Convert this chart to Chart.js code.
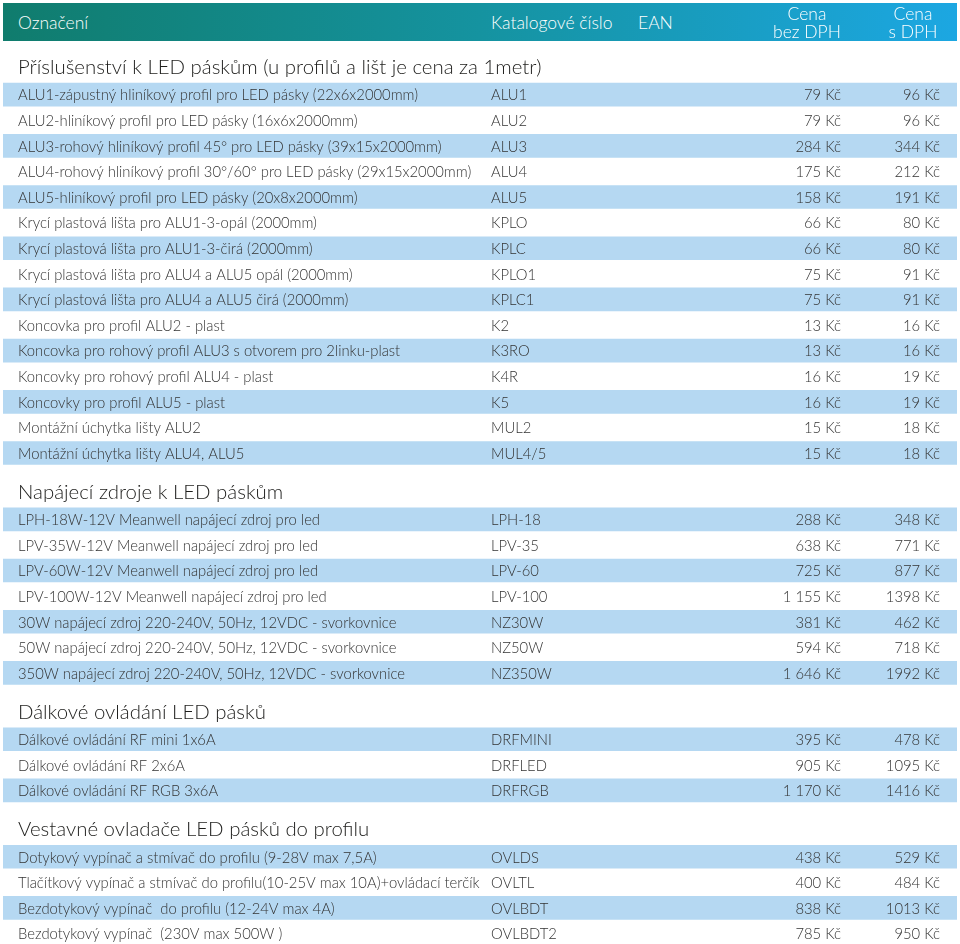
<!DOCTYPE html>
<html>
<head>
<meta charset="utf-8">
<script src="https://cdn.jsdelivr.net/npm/chart.js@4/dist/chart.umd.min.js"></script>
<style>
html, body { margin: 0; padding: 0; background: #fff; }
#wrap { position: relative; width: 960px; height: 944px; overflow: hidden; }
#chart { position: absolute; left: 0; top: 0; }
#head {
    position: absolute; left: 3px; top: 3px; width: 954px; height: 38px;
    background: linear-gradient(90deg, #107c6d 0%, #1593a0 50%, #1ca7e2 100%);
    color: #fff; font-family: Lato, sans-serif; font-size: 17.5px; font-weight: 300;
}
#head span { position: absolute; white-space: nowrap; }
#head .two { text-align: center; line-height: 18px; top: 2px; }
</style>
</head>
<body>
<div id="wrap">
    <canvas id="chart" width="960" height="944"></canvas>
    <div id="head">
        <span style="left:15px; top:9px;">Označení</span>
        <span style="left:488px; top:9px;">Katalogové číslo</span>
        <span style="left:635px; top:9px;">EAN</span>
        <span class="two" style="left:764px; width:80px;">Cena<br>bez DPH</span>
        <span class="two" style="left:870px; width:80px;">Cena<br>s DPH</span>
    </div>
</div>
<script>
const sectionTitles = [
    "Příslušenství k LED páskům (u profilů a lišt je cena za 1metr)",
    "Napájecí zdroje k LED páskům",
    "Dálkové ovládání LED pásků",
    "Vestavné ovladače LED pásků do profilu"
];
const sectionSizes = [15, 7, 3, 4];

const itemNames = [
    "ALU1-zápustný hliníkový profil pro LED pásky (22x6x2000mm)",
    "ALU2-hliníkový profil pro LED pásky (16x6x2000mm)",
    "ALU3-rohový hliníkový profil 45° pro LED pásky (39x15x2000mm)",
    "ALU4-rohový hliníkový profil 30°/60° pro LED pásky (29x15x2000mm)",
    "ALU5-hliníkový profil pro LED pásky (20x8x2000mm)",
    "Krycí plastová lišta pro ALU1-3-opál (2000mm)",
    "Krycí plastová lišta pro ALU1-3-čirá (2000mm)",
    "Krycí plastová lišta pro ALU4 a ALU5 opál (2000mm)",
    "Krycí plastová lišta pro ALU4 a ALU5 čirá (2000mm)",
    "Koncovka pro profil ALU2 - plast",
    "Koncovka pro rohový profil ALU3 s otvorem pro 2linku-plast",
    "Koncovky pro rohový profil ALU4 - plast",
    "Koncovky pro profil ALU5 - plast",
    "Montážní úchytka lišty ALU2",
    "Montážní úchytka lišty ALU4, ALU5",
    "LPH-18W-12V Meanwell napájecí zdroj pro led",
    "LPV-35W-12V Meanwell napájecí zdroj pro led",
    "LPV-60W-12V Meanwell napájecí zdroj pro led",
    "LPV-100W-12V Meanwell napájecí zdroj pro led",
    "30W napájecí zdroj 220-240V, 50Hz, 12VDC - svorkovnice",
    "50W napájecí zdroj 220-240V, 50Hz, 12VDC - svorkovnice",
    "350W napájecí zdroj 220-240V, 50Hz, 12VDC - svorkovnice",
    "Dálkové ovládání RF mini 1x6A",
    "Dálkové ovládání RF 2x6A",
    "Dálkové ovládání RF RGB 3x6A",
    "Dotykový vypínač a stmívač do profilu (9-28V max 7,5A)",
    "Tlačítkový vypínač a stmívač do profilu(10-25V max 10A)+ovládací terčík",
    "Bezdotykový vypínač  do profilu (12-24V max 4A)",
    "Bezdotykový vypínač  (230V max 500W )"
];
const itemCodes = [
    "ALU1", "ALU2", "ALU3", "ALU4", "ALU5", "KPLO", "KPLC", "KPLO1", "KPLC1",
    "K2", "K3RO", "K4R", "K5", "MUL2", "MUL4/5",
    "LPH-18", "LPV-35", "LPV-60", "LPV-100", "NZ30W", "NZ50W", "NZ350W",
    "DRFMINI", "DRFLED", "DRFRGB",
    "OVLDS", "OVLTL", "OVLBDT", "OVLBDT2"
];
const priceNet = [
    79, 79, 284, 175, 158, 66, 66, 75, 75, 13, 13, 16, 16, 15, 15,
    288, 638, 725, 1155, 381, 594, 1646,
    395, 905, 1170,
    438, 400, 838, 785
];
const priceGross = [
    96, 96, 344, 212, 191, 80, 80, 91, 91, 16, 16, 19, 19, 18, 18,
    348, 771, 877, 1398, 462, 718, 1992,
    478, 1095, 1416,
    529, 484, 1013, 950
];

// row layout in row units
const HEAD_GAP = 1.06;
const SECTION_GAP = 1.53;
const headings = [];
const items = [];
let pos = 0, k = 0;
sectionTitles.forEach((title, s) => {
    if (s > 0) pos += SECTION_GAP;
    headings.push({ text: title, pos: pos });
    pos += HEAD_GAP;
    for (let i = 0; i < sectionSizes[s]; i++) {
        items.push({ idx: k, pos: pos, striped: i % 2 === 0 });
        k++;
        if (i < sectionSizes[s] - 1) pos += 1;
    }
});

const fmtNet = v => (v >= 1000 ? Math.floor(v / 1000) + " " + String(v % 1000).padStart(3, "0") : String(v)) + " Kč";
const fmtGross = v => v + " Kč";

// columns, in pixels from left edge of table
const COL = { desc: 15, code: 488, net: 838, gross: 937 };

const tableText = {
    id: "tableText",
    afterDatasetsDraw(chart) {
        const { ctx, scales: { x, y } } = chart;
        ctx.save();
        ctx.textBaseline = "middle";
        ctx.fillStyle = "#1d1d1b";
        ctx.font = "300 20.4px Lato";
        ctx.textAlign = "left";
        headings.forEach(h => {
            ctx.fillText(h.text, x.getPixelForValue(COL.desc), y.getPixelForValue(h.pos));
        });
        ctx.fillStyle = "#333333";
        ctx.font = "300 14.8px Lato";
        items.forEach(it => {
            const py = y.getPixelForValue(it.pos) + 1;
            ctx.textAlign = "left";
            ctx.fillText(itemNames[it.idx], x.getPixelForValue(COL.desc), py);
            ctx.fillText(itemCodes[it.idx], x.getPixelForValue(COL.code), py);
            ctx.textAlign = "right";
            ctx.fillText(fmtNet(priceNet[it.idx]), x.getPixelForValue(COL.net), py);
            ctx.fillText(fmtGross(priceGross[it.idx]), x.getPixelForValue(COL.gross), py);
        });
        ctx.restore();
    }
};

const bands = items.filter(it => it.striped).map(it => ({ x: [0, 954], y: it.pos }));

Promise.all([document.fonts.load("16px Lato"), document.fonts.load("300 16px Lato")]).then(() => {
    new Chart(document.getElementById("chart"), {
        type: "bar",
        data: {
            datasets: [{
                data: bands,
                backgroundColor: "#b5d8f2",
                borderWidth: 0,
                barThickness: 23
            }]
        },
        options: {
            indexAxis: "y",
            responsive: false,
            animation: false,
            layout: { padding: { left: 3, right: 3, top: 0, bottom: 0 } },
            plugins: { legend: { display: false }, tooltip: { enabled: false } },
            scales: {
                x: { type: "linear", min: 0, max: 954, display: false },
                y: {
                    type: "linear", reverse: true, offset: false, display: false,
                    min: -67.5 / 25.6, max: (944 - 67.5) / 25.6
                }
            }
        },
        plugins: [tableText]
    });
});
</script>
</body>
</html>
